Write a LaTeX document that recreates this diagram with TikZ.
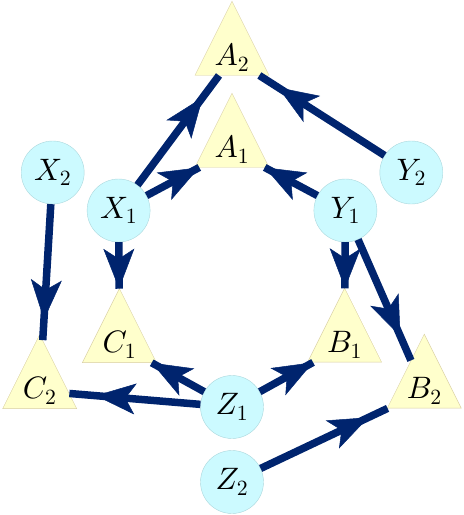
\documentclass[tikz,border=0pt]{standalone}
\usetikzlibrary{shapes.geometric,arrows.meta,decorations.markings}
%scalable math letters and digits
\DeclareFontFamily{OML}{cmm}{\skewchar\font127 }
\DeclareFontShape{OML}{cmm}{m}{it}{<->cmmi10}{}
\DeclareFontFamily{OT1}{cmr}{\hyphenchar\font45 }
\DeclareFontShape{OT1}{cmr}{m}{n}{<->cmr10}{}

\definecolor{arrowblue}{RGB}{0,36,110}
\definecolor{placefill}{RGB}{204,250,255}
\definecolor{placedraw}{RGB}{170,215,220}
\definecolor{transfill}{RGB}{255,255,204}
\definecolor{transdraw}{RGB}{215,205,160}

\begin{document}
\begin{tikzpicture}[x=1pt,y=1pt,yscale=-1,xscale=1,
  place/.style={circle,draw=placedraw,fill=placefill,minimum size=63pt,inner sep=0pt,font=\fontsize{31}{36}\selectfont},
  trans/.style={isosceles triangle,shape border rotate=90,isosceles triangle stretches,minimum width=74pt,minimum height=74pt,inner sep=0pt,draw=transdraw,fill=transfill,font=\fontsize{31}{36}\selectfont},
  flow/.style={draw=arrowblue,line width=7.5pt,postaction={decorate},decoration={markings,mark=at position #1 with {\arrow[arrowblue]{Stealth[length=40pt,width=31pt,inset=10pt,line width=0.5pt]}}}},
  flow/.default=1]
%set diagram size
\useasboundingbox (0,0) rectangle (464,515);

%Shape: Circle (inner)
\node [place] (X1) at (118.6,210.5) {$X_1$};
\node [place] (Y1) at (345.4,210.5) {$Y_1$};
\node [place] (Z1) at (232,407) {$Z_1$};
%Shape: Circle (outer)
\node [place] (X2) at (52.7,172.5) {$X_2$};
\node [place] (Y2) at (411.3,172.5) {$Y_2$};
\node [place] (Z2) at (232,482) {$Z_2$};

%Shape: Triangle (inner)
\node [trans] (A1) at (232,150) {$A_1$};
\node [trans] (C1) at (119.4,345) {$C_1$};
\node [trans] (B1) at (344.6,345) {$B_1$};
%Shape: Triangle (outer)
\node [trans] (A2) at (232,58) {$A_2$};
\node [trans] (C2) at (39.7,391) {$C_2$};
\node [trans] (B2) at (424.3,391) {$B_2$};

%Straight Lines (inner)
\draw [flow] (X1) -- (A1);
\draw [flow] (X1) -- (C1);
\draw [flow] (Y1) -- (A1);
\draw [flow] (Y1) -- (B1);
\draw [flow] (Z1) -- (C1);
\draw [flow] (Z1) -- (B1);
%Straight Lines (outer)
\draw [flow=0.8] (X1) -- (A2);
\draw [flow=0.8] (Y1) -- (B2);
\draw [flow=0.8] (Z1) -- (C2);
\draw [flow=0.85] (X2) -- (C2);
\draw [flow=0.85] (Y2) -- (A2);
\draw [flow=0.85] (Z2) -- (B2);

\end{tikzpicture}
\end{document}
